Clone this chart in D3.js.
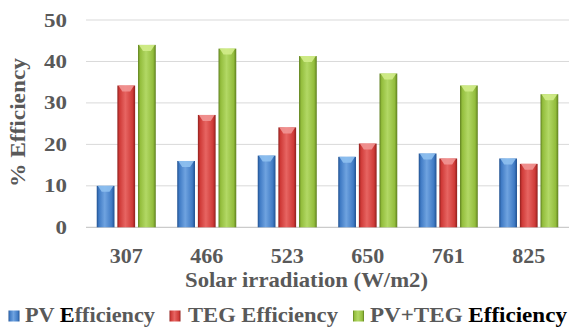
<!DOCTYPE html>
<html><head><meta charset="utf-8">
<script src="https://cdn.jsdelivr.net/npm/d3@7"></script>
<style>body{margin:0;background:#fff}svg{display:block}</style>
</head><body>
<svg id="c" width="569" height="329"></svg>
<script>
const categories = ["307","466","523","650","761","825"];
const pvEff = [10, 16, 17.3, 17, 17.8, 16.6];
const tegEff = [34.2, 27.1, 24.1, 20.2, 16.6, 15.3];
const totalEff = [44, 43.1, 41.3, 37.1, 34.2, 32.1];
const seriesNames = ["PV Efficiency","TEG Efficiency","PV+TEG Efficiency"];
const yTicks = [0,10,20,30,40,50];
const xTitle = "Solar irradiation (W/m2)";
const yTitle = "% Efficiency";
const colors = [
  {base:"#3f7ac4", dark:"#20508f", light:"#6fa3e0", top:"#8ec0f0"},
  {base:"#cf3a37", dark:"#8f1f1d", light:"#e76562", top:"#f19593"},
  {base:"#93bd3c", dark:"#5e7f1f", light:"#b2d865", top:"#d2ec8a"}
];
const series = [pvEff, tegEff, totalEff];
const FONT = "'Liberation Serif', 'Times New Roman', Times, serif";
const GRAY = "#595959";

const svg = d3.select("#c").attr("font-family", FONT).attr("font-weight","bold");
const m = {l:86, r:569, t:20, b:227.3};
const x0 = d3.scaleBand().domain(categories).range([m.l, m.r]).paddingInner(0).paddingOuter(0);
const x1 = d3.scaleBand().domain([0,1,2]).range([0, x0.bandwidth()]).paddingInner(0.14).paddingOuter(0.52);
const y = d3.scaleLinear().domain([0,50]).range([m.b, m.t]);

// stretch a text horizontally so it spans `w` px; anchor: 'start'|'middle'|'end'
function fit(t, x, yb, w, anchor, rot) {
  const L = t.node().getComputedTextLength();
  const s = w / L;
  t.attr("x",0).attr("y",0).attr("text-anchor",anchor);
  t.attr("transform", `translate(${x},${yb})${rot?` rotate(${rot})`:""} scale(${s},1)`);
}

const defs = svg.append("defs");
colors.forEach((c,i)=>{
  const g = defs.append("linearGradient").attr("id","g"+i).attr("x1","0").attr("x2","1").attr("y1","0").attr("y2","0");
  g.append("stop").attr("offset","0").attr("stop-color",c.dark);
  g.append("stop").attr("offset","0.12").attr("stop-color",c.base);
  g.append("stop").attr("offset","0.45").attr("stop-color",c.light);
  g.append("stop").attr("offset","0.85").attr("stop-color",c.base);
  g.append("stop").attr("offset","1").attr("stop-color",c.dark);
});

svg.append("g").selectAll("line").data(yTicks.filter(d=>d>0)).join("line")
  .attr("x1",m.l).attr("x2",m.r).attr("y1",d=>y(d)).attr("y2",d=>y(d))
  .attr("stroke","#d9d9d9").attr("stroke-width",1);
svg.append("line").attr("x1",m.l).attr("x2",m.r).attr("y1",y(0)).attr("y2",y(0)).attr("stroke","#bfbfbf");

// y tick labels
svg.append("g").selectAll("text").data(yTicks).join("text")
  .attr("font-size",19).attr("fill",GRAY).text(d=>d)
  .each(function(d){ fit(d3.select(this), 67, y(d)+6.5, String(d).length*11.5, "end"); });

// bars
const gg = svg.append("g").selectAll("g").data(categories).join("g")
  .attr("transform",d=>`translate(${x0(d)},0)`);
series.forEach((s,si)=>{
  gg.append("rect")
    .attr("x",x1(si)).attr("width",x1.bandwidth())
    .attr("y",(d,i)=>y(s[i])).attr("height",(d,i)=>y(0)-y(s[i]))
    .attr("fill",`url(#g${si})`);
  gg.append("path")
    .attr("d",(d,i)=>{const xa=x1(si), w=x1.bandwidth(), yt=y(s[i]);
      return `M${xa+1},${yt}L${xa+w-1},${yt}L${xa+w*0.72},${yt+6}L${xa+w*0.28},${yt+6}Z`;})
    .attr("fill",colors[si].top).attr("opacity",0.9);
});

// x labels
svg.append("g").selectAll("text").data(categories).join("text")
  .attr("font-size",22).attr("fill",GRAY).text(d=>d)
  .each(function(d){ fit(d3.select(this), x0(d)+x0.bandwidth()/2, 262.5, 33, "middle"); });

fit(svg.append("text").attr("font-size",22).attr("fill",GRAY).text(xTitle), 306.5, 287, 243, "middle");
fit(svg.append("text").attr("font-size",21).attr("fill",GRAY).text(yTitle), 25, 122.5, 129, "middle", -90);

// legend
const legSq = [8.5, 169.5, 353];
const legTx = [25, 188, 370];
const legW = [130, 150, 197];
seriesNames.forEach((d,i)=>{
  svg.append("rect").attr("x",legSq[i]).attr("y",310.5).attr("width",11).attr("height",11)
    .attr("fill",`url(#g${i})`);
  const t = svg.append("text").attr("font-size",20).attr("fill",GRAY);
  if(i===0){t.append("tspan").text("PV ");t.append("tspan").attr("fill","#000").text("E");t.append("tspan").text("fficiency");}
  else if(i===1){t.text(d);}
  else {t.append("tspan").text("PV+TEG ");t.append("tspan").attr("fill","#000").text("Efficiency");}
  fit(t, legTx[i], 321.5, legW[i], "start");
});
</script>
</body></html>
